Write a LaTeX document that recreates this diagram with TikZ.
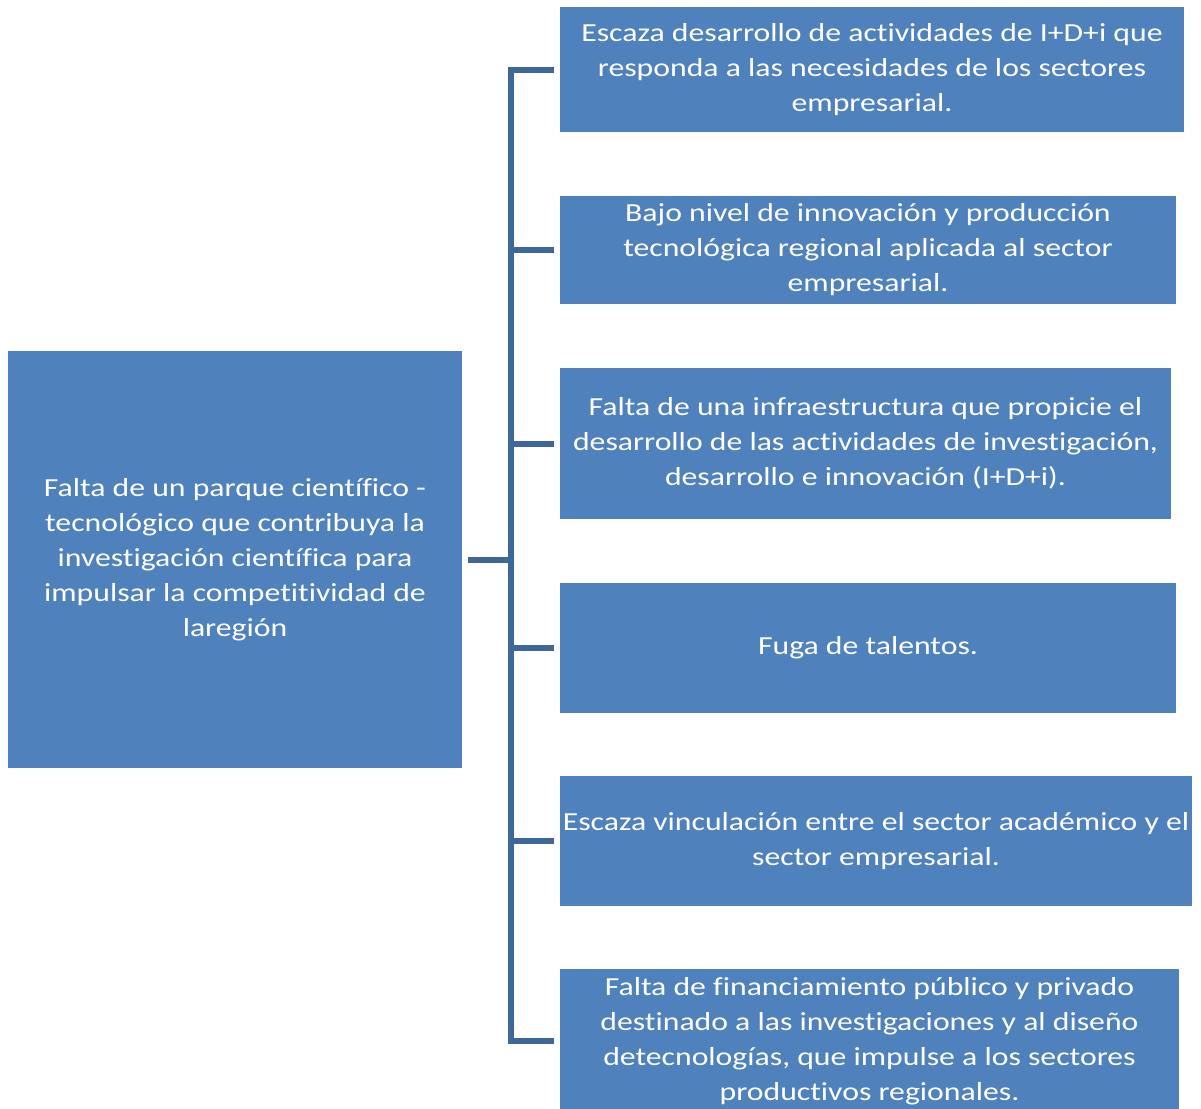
\documentclass[tikz,border=0pt]{standalone}
\usepackage{fontspec}
\setmainfont{Carlito}[FakeStretch=1.22,Ligatures=NoCommon]
\definecolor{boxblue}{HTML}{4F81BD}
\definecolor{lineblue}{HTML}{3D6699}
\begin{document}
\begin{tikzpicture}[x=0.5pt,y=-0.5pt,
  box/.style={draw=none,fill=boxblue,text=white,inner sep=0pt,align=center,
    font=\fontsize{13pt}{17.5pt}\selectfont},
  conn/.style={draw=lineblue,line width=3pt,line join=miter,line cap=butt}]
\useasboundingbox (0,0) rectangle (1201,1109);
\node[box,minimum width=454pt*0.5,minimum height=417pt*0.5] (L) at (235,559.5)
  {Falta de un parque científico -\\tecnológico que contribuya la\\investigación científica para\\impulsar la competitividad de\\laregión};
\node[box,minimum width=624pt*0.5,minimum height=125pt*0.5] (B1) at (872,69.5)
  {Escaza desarrollo de actividades de I+D+i que\\responda a las necesidades de los sectores\\empresarial.};
\node[box,minimum width=616pt*0.5,minimum height=108pt*0.5] (B2) at (868,250)
  {Bajo nivel de innovación y producción\\tecnológica regional aplicada al sector\\empresarial.};
\node[box,minimum width=611pt*0.5,minimum height=151pt*0.5] (B3) at (865.5,443.5)
  {Falta de una infraestructura que propicie el\\desarrollo de las actividades de investigación,\\desarrollo e innovación (I+D+i).};
\node[box,minimum width=616pt*0.5,minimum height=130pt*0.5] (B4) at (868,648)
  {Fuga de talentos.};
\node[box,minimum width=632pt*0.5,minimum height=130pt*0.5] (B5) at (876,841)
  {Escaza vinculación entre el sector académico y el\\sector empresarial.};
\node[box,minimum width=619pt*0.5,minimum height=144pt*0.5] (B6) at (869.5,1041)
  {Falta de financiamiento público y privado\\destinado a las investigaciones y al diseño\\detecnologías, que impulse a los sectores\\productivos regionales.};
\coordinate (spine) at (511,560);
\draw[conn] ([xshift=3pt]L.east) -- (L.east -| spine);
\draw[conn] ([xshift=-3pt]B1.west) -- (B1.west -| spine) -- (B6.west -| spine) -- ([xshift=-3pt]B6.west);
\foreach \b in {B2,B3,B4,B5}
  \draw[conn] (\b.west -| spine) -- ([xshift=-3pt]\b.west);
\end{tikzpicture}
\end{document}
